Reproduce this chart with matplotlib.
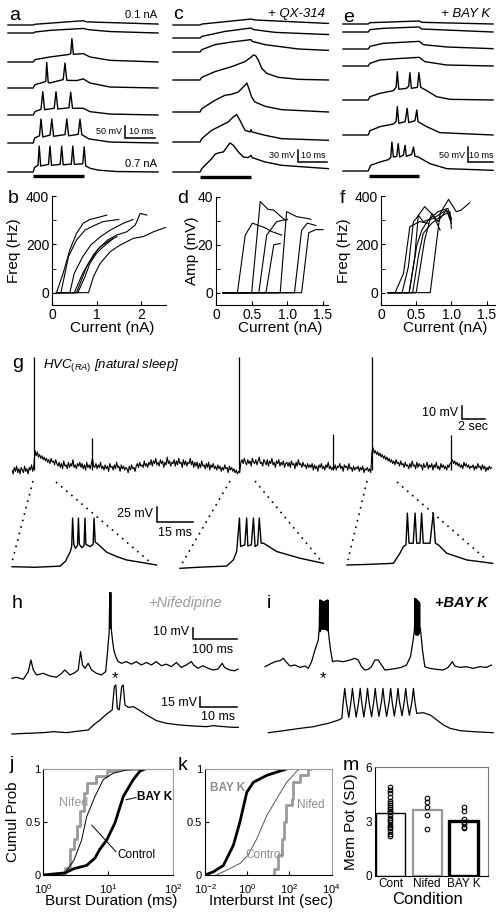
import numpy as np
import matplotlib
matplotlib.use('Agg')
import matplotlib.pyplot as plt
from matplotlib.ticker import NullLocator

plt.rcParams['font.family'] = 'Liberation Sans'
plt.rcParams['mathtext.fontset'] = 'custom'
plt.rcParams['mathtext.rm'] = 'Liberation Sans'
plt.rcParams['mathtext.it'] = 'Liberation Sans:italic'
plt.rcParams['mathtext.bf'] = 'Liberation Sans:bold'

# ---------------- data ----------------
# a: control current steps 0.1 -> 0.7 nA (ms, mV above rest)
a_t = [[0, 8.4, 9.0, 25.1, 26.2, 50],
       [0, 8.4, 9.0, 14.0, 19.6, 25.1, 26.8, 34.0, 50],
       [0, 8.4, 9.0, 14.0, 20.1, 20.9, 21.3, 21.8, 25.1, 27.3, 34.0, 50],
       [0, 8.4, 9.0, 11.8, 12.6, 12.9, 13.4, 14.0, 18.4, 19.0, 19.6, 22.9, 25.1, 27.3, 34.0, 50],
       [0, 8.4, 9.0, 11.0, 11.6, 12.2, 15.4, 16.0, 16.6, 20.3, 20.9, 21.5, 25.1, 27.3, 34.0, 50],
       [0, 8.4, 8.9, 10.5, 11.0, 11.6, 14.0, 14.6, 15.2, 19.0, 19.6, 20.2, 23.4, 24.0, 24.6, 25.5, 27.0, 34.0, 50],
       [0, 8.4, 8.8, 10.0, 10.4, 10.9, 13.5, 14.0, 14.5, 17.4, 17.9, 18.4, 21.1, 21.6, 22.1, 24.9, 25.4, 25.9, 27.5, 30.0, 36.0, 50]]
a_v = [[0, 0, 3, 18, 13, 4],
       [0, 0, 4, 11, 15, 19, 14, 6, 0],
       [0, 0, 10, 21, 31, 35, 97, 32, 35, 21, 7, 0],
       [0, 0, 14, 24, 28, 107, 24, 21, 35, 104, 32, 31, 38, 21, 4, 0],
       [0, 0, 14, 24, 97, 22, 28, 97, 25, 30, 95, 28, 28, 14, 4, 0],
       [0, 0, 21, 30, 100, 25, 33, 100, 28, 35, 100, 30, 36, 100, 35, 28, 17, 4, 0],
       [0, 0, 18, 28, 108, 25, 32, 108, 28, 32, 108, 30, 33, 108, 32, 34, 105, 25, 15, 8, 2, 0]]

# c: + QX-314
c_t = [[0, 9.0, 9.6, 26.0, 27.3, 51.8],
       [0, 9.0, 9.6, 17.3, 26.0, 26.8, 34.0, 51.8],
       [0, 9.0, 9.6, 14.0, 19.6, 26.0, 26.4, 30.7, 41.8, 51.8],
       [0, 9.0, 9.6, 14.0, 19.6, 24.0, 26.0, 26.8, 27.6, 28.4, 29.6, 31.2, 35.1, 41.8, 51.8],
       [0, 9.0, 9.6, 14.0, 17.3, 19.6, 21.8, 24.0, 24.6, 25.1, 26.2, 27.3, 30.7, 36.2, 51.8],
       [0, 9.0, 9.6, 12.9, 16.2, 18.4, 20.1, 21.2, 22.3, 24.0, 25.7, 26.0, 26.4, 30.7, 36.2, 51.8],
       [0, 9.0, 9.6, 12.9, 14.0, 15.1, 16.8, 19.0, 20.1, 21.8, 23.4, 25.1, 26.0, 26.4, 30.7, 36.2, 51.8]]
c_v = [[0, 0, 3, 19, 16, 5],
       [0, 0, 5, 21, 32, 27, 18, 11],
       [0, 0, 7.5, 23.5, 32, 39.6, 34, 23.5, 9.6, 5.3],
       [0, 0, 8.6, 26.8, 42.8, 58.9, 72.8, 80.3, 77, 64.2, 37.5, 21.4, 8.6, 2.1, 0],
       [0, 0, 10.7, 37.5, 53.5, 56.7, 64.2, 85.6, 93, 80.3, 48.2, 32.1, 18.2, 7.5, 0],
       [0, 0, 10.7, 37.5, 53.5, 64.2, 80.3, 87.7, 69.6, 37.5, 32.1, 39.6, 32.1, 21.4, 10.7, 5.4],
       [0, 0, 10.7, 42.8, 56.7, 61, 64.2, 93, 85.6, 64.2, 48.2, 46, 53.5, 46, 32.1, 21.4, 10.7]]

# e: + BAY K
e_t = [[0, 8.4, 9.0, 25.4, 26.2, 50],
       [0, 8.4, 9.0, 13.4, 25.4, 26.2, 50],
       [0, 8.4, 9.0, 13.4, 25.4, 26.8, 34.6, 50],
       [0, 8.4, 9.0, 12.3, 17.9, 25.4, 27.3, 34.6, 50],
       [0, 8.4, 9.0, 12.3, 16.8, 17.7, 18.1, 18.6, 21.2, 21.9, 22.3, 22.8, 24.8, 25.3, 25.9, 27.9, 31.2, 35.7, 50],
       [0, 8.4, 9.0, 12.3, 16.8, 17.7, 18.1, 18.6, 20.7, 21.4, 21.9, 24.0, 24.6, 25.0, 27.9, 32.3, 50],
       [0, 8.4, 9.2, 12.3, 15.1, 15.9, 16.3, 16.8, 17.9, 18.4, 18.9, 20.1, 20.7, 21.1, 22.9, 23.5, 24.0, 25.1, 29.0, 34.6, 50]]
e_v = [[0, 0, 4.4, 10, 5.6, 0],
       [0, 0, 7.8, 12.2, 16.7, 10, 0],
       [0, 0, 8.9, 18.9, 25.5, 14.4, 6.7, 1.1],
       [0, 0, 8.9, 20, 24.4, 28.9, 14.4, 3.3, 0],
       [0, 0, 11.1, 22.2, 31.1, 42.2, 94.4, 35.5, 38.9, 46.6, 91, 38.9, 42.2, 91, 42.2, 31.1, 11.1, 2.2, 0],
       [0, 0, 14.4, 27.8, 36.6, 44.4, 94.4, 38.9, 44.4, 88.8, 41.1, 47.7, 83.3, 44.4, 27.8, 7.8, 0],
       [0, 0, 18.9, 30, 37.7, 44.4, 96.6, 46.6, 48.8, 91, 46.6, 52.2, 85.5, 48.8, 55.5, 79.9, 48.8, 46.6, 24.4, 7.8, 2.2]]

# b: F-I curves, control
b_curr = [[0.1, 0.25, 0.4, 0.55, 0.7, 0.85, 0.97, 1.23],
          [0.1, 0.2, 0.37, 0.55, 0.74, 0.97, 1.15, 1.5],
          [0.1, 0.4, 0.5, 0.69, 0.87, 1.09, 1.31, 1.6, 1.82],
          [0.1, 0.5, 0.69, 0.84, 1.02, 1.25, 1.46, 1.68, 1.87, 1.98, 2.13],
          [0.1, 0.55, 0.66, 0.78, 0.93, 1.08, 1.31, 1.46],
          [0.1, 0.58, 0.74, 0.85, 1.0, 1.15, 1.38],
          [0.1, 0.82, 0.93, 1.08, 1.31, 1.53, 1.83, 2.05, 2.28, 2.55]]
b_freq = [[0, 80, 177, 245, 287, 303, 308, 321],
          [0, 0, 149, 218, 259, 280, 294, 303],
          [0, 0, 80, 149, 197, 232, 259, 287, 303],
          [0, 0, 80, 128, 177, 218, 239, 252, 280, 328, 321],
          [0, 0, 52, 108, 156, 190, 218, 232],
          [0, 0, 66, 121, 163, 190, 225],
          [0, 0, 66, 121, 170, 197, 225, 232, 252, 270]]

# d: amplitude vs current, QX-314
d_curr = [[0.1, 0.3, 0.41, 0.51, 0.69, 0.78, 0.92],
          [0.1, 0.5, 0.62, 0.73, 0.81, 0.9, 0.98],
          [0.1, 0.6, 0.71, 0.85, 0.95, 1.0],
          [0.1, 0.7, 0.81, 0.9],
          [0.1, 0.9, 0.99, 1.13, 1.27, 1.33],
          [0.1, 1.1, 1.2, 1.28, 1.4],
          [0.1, 1.2, 1.3, 1.4, 1.5]]
d_amp = [[0, 0, 24, 29, 27, 25.5, 24],
         [0, 0, 38, 34.7, 34.4, 32, 30],
         [0, 0, 24, 29.6, 30.3, 30.5],
         [0, 0, 20, 20.5],
         [0, 0, 33.8, 31.7, 31, 30.6],
         [0, 0, 26, 29, 28],
         [0, 0, 25, 26.3, 26.3]]

# f: F-I curves, BAY K
f_curr = [[0.1, 0.2, 0.32, 0.41, 0.55, 0.67],
          [0.1, 0.3, 0.39, 0.46, 0.5, 0.62, 0.74, 0.84],
          [0.1, 0.4, 0.48, 0.53, 0.6, 0.74, 0.93, 1.0],
          [0.1, 0.4, 0.51, 0.58, 0.67, 0.81, 0.95, 1.0],
          [0.1, 0.45, 0.53, 0.6, 0.72, 0.84, 0.98, 1.0],
          [0.1, 0.5, 0.62, 0.72, 0.81, 0.93, 1.0],
          [0.1, 0.7, 0.84, 0.96, 1.07, 1.14, 1.26]]
f_freq = [[0, 0, 80, 273, 294, 287],
          [0, 0, 108, 294, 307, 356, 321, 259],
          [0, 0, 149, 321, 294, 307, 342, 287],
          [0, 0, 197, 259, 300, 335, 349, 307],
          [0, 0, 149, 245, 287, 314, 335, 266],
          [0, 0, 218, 328, 294, 342, 300],
          [0, 0, 328, 386, 335, 342, 372]]

# g: natural sleep recording, 0.1 s samples (mV above rest), one row = 2 s
g_dt = 0.1
g_v = [0, -3, 2, -1, 3, -2, 1, -3, 2, 0, -2, 3, -1, 1, -3, 2, 0, 4, -1, 3,
       15, 11, 14, 10, 12, 9, 11, 8, 10, 7, 9, 6, 8, 5, 9, 6, 7, 4, 8, 5,
       3, 6, 2, 5, 1, 7, 3, 4, 1, 6, 2, 5, 3, 8, 2, 4, 1, 5, 3, 6,
       2, 5, 1, 4, 0, 6, 2, 4, 1, 5, 9, 3, 2, 5, 1, 4, 2, 6, 1, 3,
       0, 4, 1, 3, -1, 5, 2, 3, 0, 4, 1, 6, 2, 3, -1, 4, 1, 3, 0, 2,
       1, -2, 3, 0, 4, 1, 2, -1, 3, 5, 2, 6, 3, 4, 2, 7, 3, 5, 2, 6,
       4, 8, 3, 7, 5, 9, 4, 6, 3, 8, 5, 7, 2, 6, 4, 10, 5, 7, 3, 6,
       5, 8, 3, 7, 4, 9, 5, 6, 2, 8, 4, 7, 3, 6, 5, 9, 4, 7, 2, 6,
       3, 6, 1, 5, 2, 7, 3, 4, 1, 5, 2, 6, 0, 4, 2, 5, 1, 3, 0, 4,
       1, 3, -1, 2, 0, 4, 1, 2, -2, 3, 0, 2, -1, 1, -2, 0, -3, -1, -2, 6,
       8, 5, 9, 6, 4, 8, 5, 7, 3, 9, 6, 5, 8, 4, 7, 10, 5, 6, 3, 8,
       6, 4, 8, 3, 7, 5, 9, 4, 6, 2, 7, 5, 8, 3, 6, 4, 7, 2, 5, 6,
       3, 6, 2, 7, 4, 5, 1, 6, 3, 8, 4, 5, 2, 6, 3, 4, 1, 5, 2, 4,
       2, 5, 0, 4, 1, 3, -1, 4, 2, 5, 1, 3, 0, 4, 2, 6, 1, 3, 0, 2,
       1, 4, 0, 3, 2, 5, 1, 3, -1, 4, 2, 3, 0, 5, 1, 2, -1, 3, 0, 2,
       1, 3, -1, 2, 0, 3, -2, 1, 0, 2, -1, 1, -2, 14, 17, 13, 15, 12, 14, 11,
       13, 10, 12, 9, 11, 8, 10, 7, 9, 6, 8, 5, 7, 4, 8, 5, 6, 3, 7, 4,
       5, 2, 6, 3, 4, 1, 5, 2, 7, 3, 4, 1, 6, 2, 5, 3, 4, 0, 5, 2,
       3, 6, 1, 4, 2, 5, 0, 4, 2, 6, 1, 3, 0, 5, 2, 4, 1, 3, 0, 4,
       2, 5, 6, 8, 5, 7, 4, 6, 3, 5, 2, 4, 1, 6, 3, 5, 2, 4, 1, 3,
       2, 4, 0, 3, 1, 5, 2, 3, 0, 4, 1, 3, -1, 2, 0, 3, 1, 2]
g_spike_t = [1.9, 7.0, 19.75, 27.9, 31.3, 38.2]
g_spike_peak = [87, 25, 87, 28, 87, 27]

# g insets: expanded bursts (ms, mV)
g1_t = [0, 10, 20.6, 23, 25, 25.6, 26.0, 26.5, 27.2, 28.1, 28.5, 28.9, 30.0, 30.9, 31.3, 31.7,
        33.5, 34.8, 35.2, 35.7, 37, 40.6, 45, 49.2, 55, 62]
g1_v = [0, -1, 1, 10, 27, 36, 87, 40, 33, 38, 87, 40, 34, 38, 87, 40,
        36, 40, 87, 44, 40, 26, 18, 12, 8, 3]
g2_t = [0, 8.6, 20, 22.9, 24.3, 25.5, 26.0, 27.8, 28.6, 29.1, 30.6, 31.5, 32.2, 33.3, 34.0, 34.8,
        35.8, 41.5, 51.5, 61.5]
g2_v = [0, 2, 4, 15, 30, 90, 39, 42, 90, 40, 42, 90, 39, 42, 90, 45, 45, 30, 18, 9]
g3_t = [0, 8.4, 19.9, 22.7, 24.2, 25.3, 25.9, 26.6, 28.4, 29.2, 29.9, 31.3, 32.0, 32.7, 35.6, 37.0,
        37.9, 39.2, 42.8, 51.4, 62.5]
g3_v = [0, 1, 3, 21, 33, 36, 93, 39, 39, 93, 39, 39, 93, 39, 39, 93, 39, 36, 21, 9, 3]

# h: + Nifedipine (upper: 100 ms scale, lower: 10 ms scale)
h_up_t = [0, 10, 25.7, 37.1, 43, 48.5, 56, 71, 86, 101, 113, 120, 132, 143, 150.6, 156, 160.4, 166,
          173.3, 181, 192, 203.5, 213, 217, 221, 222.5, 223.5, 224.7, 226, 228.5, 231.5, 236, 241.4,
          249, 260, 271.6, 283, 294, 306, 317, 328, 340, 351, 362.4, 374, 385, 396.4, 408, 413, 423,
          434, 446, 457, 468, 478, 483.5, 495, 506, 514]
h_up_v = [0, 1.2, -1.2, 8, 22, 10, 4, 6, 2.8, 1.2, 6, 10, 4, 6.8, 10, 32, 16, 12,
          18, 10, 6, 4, 8, 30, 56, 103, 60, 103, 58, 46, 34, 26, 20,
          18, 20, 17, 20, 16, 19, 16, 20, 15, 17, 14, 19, 13, 16, 20, 16, 12,
          15, 12, 10, 11, 18, 13, 10, 9, 11]
h_lo_t = [0, 4, 8.5, 11.3, 14.9, 17.6, 20.8, 22.2, 24, 25.8, 26.7, 27.3, 27.9, 28.3, 28.7, 29.2,
          29.9, 30.3, 30.8, 31.7, 33.1, 34.9, 36.7, 39.4, 42.1, 45.8, 49.4, 53, 54.9, 56.7, 60.3, 61.7]
h_lo_v = [0, 1, 2, 3.5, 2, 4, 6, 13.5, 21, 30, 33.5, 36, 71, 73.5, 38.5, 36,
          71, 73.5, 43.5, 40, 41, 35, 28.5, 20, 16, 13.5, 12, 11, 12.5, 11.5, 10, 10]

# i: + BAY K
i_up_t = [0, 11.4, 22.7, 34, 41.6, 47.7, 56.8, 68, 79.5, 90.8, 98.3, 105.9, 113.5, 121, 123.3,
          143.7, 145.3, 149, 153.6, 162.7, 177.8, 193, 204.3, 211.9, 219.5, 227, 234.6, 242, 249.7,
          257.3, 265, 272.4, 283.8, 299, 310.3, 321.6, 330.7, 336.8, 339.8, 353.4, 355, 358, 363.3,
          374.6, 390, 405, 416.4, 426, 431.4, 442.7, 457.8, 473, 488, 503.3, 514.7]
i_up_v = [0, 3.2, 6, 7.2, 10, 6, 0.8, 2, -0.8, 0.8, -2, 6, 20, 32, 45,
          45, 36, 20, 6, 7.2, 6, 8, 10, 8, 0, -4, -3.2, 0, 8,
          8, 2, -4, -3.2, -2, -0.8, 2, 12, 32, 45, 45, 36, 20, 0,
          -2, -3.2, -4, -0.8, 6, 0.8, -0.8, 0, -2, 0, -0.8, 2]
i_b1_t = [123.3, 124.2, 125.2, 126.1, 127.0, 128.0, 128.9, 129.8, 130.8, 131.7, 132.6, 133.6,
          134.5, 135.4, 136.4, 137.3, 138.2, 139.2, 140.1, 141.0, 142.0, 142.9, 143.7]
i_b1_v = [45, 80, 42, 80, 44, 79, 45, 79, 46, 78, 46, 78, 46, 78, 45, 79, 45, 79, 44, 80, 43, 80, 45]
i_b2_t = [339.8, 340.7, 341.6, 342.5, 343.4, 344.3, 345.2, 346.1, 347.0, 347.9, 348.8, 349.7,
          350.6, 351.5, 352.4, 353.4]
i_b2_v = [45, 82, 40, 82, 38, 80, 38, 80, 38, 79, 38, 78, 40, 76, 42, 45]
i_lo_t = [0.1, 4.2, 8.7, 12.4, 14.2, 16.4, 17.8, 19.2, 20.1,
          20.5, 20.9, 21.3, 22.0, 22.6, 23.0, 23.4, 24.0, 24.7, 25.1, 25.5, 26.1,
          26.7, 27.1, 27.5, 28.2, 28.8, 29.2, 29.6, 30.2, 30.9, 31.3, 31.7, 32.3,
          33.0, 33.4, 33.8, 34.4, 35.0, 35.4, 35.8, 36.5, 37.1, 37.5, 37.9, 38.5,
          39.2, 39.6, 40.0,
          40.5, 42.3, 44.2, 46.0, 47.8, 49.6, 52.4, 56.0, 61.3]
i_lo_v = [-1.5, 1.5, 5, 7.5, 10, 12.5, 15, 17.5, 20,
          45, 65, 45, 21.5, 45, 65, 45, 22, 45, 65, 45, 22,
          45, 65, 45, 22.5, 45, 65, 45, 23, 45, 65, 45, 23,
          45, 65, 45, 23.5, 45, 65, 45, 24, 45, 65, 45, 24.5,
          45, 65, 45,
          27.5, 28.5, 25, 17.5, 10, 5, 1.5, 0, -1.5]

# j: burst duration CDFs (ms)
j_nifed_x = [2.16, 2.16, 2.58, 2.97, 3.3, 3.7, 4.3, 4.77, 6.6, 9.5, 13.5, 30]
j_nifed_y = [0, 0.07, 0.25, 0.34, 0.46, 0.6, 0.77, 0.87, 0.93, 0.98, 1.0, 1.0]
j_ctrl_x = [1.0, 1.9, 2.16, 2.97, 3.9, 4.66, 6.26, 8.4, 12, 19, 31]
j_ctrl_y = [0, 0, 0.02, 0.14, 0.33, 0.55, 0.74, 0.9, 0.96, 0.99, 1.0]
j_bayk_x = [1.0, 2.16, 2.97, 4.66, 6.26, 7.4, 9.5, 12.7, 17.1, 24.4, 30.9, 36.9]
j_bayk_y = [0, 0.02, 0.06, 0.09, 0.16, 0.24, 0.33, 0.49, 0.74, 0.9, 0.98, 1.0]

# k: interburst interval CDFs (sec)
k_nifed_x = [17.6, 17.6, 29, 42, 55, 69, 128, 154, 316, 794, 900]
k_nifed_y = [0, 0.06, 0.19, 0.34, 0.5, 0.66, 0.72, 0.875, 0.94, 1.0, 1.0]
k_ctrl_x = [0.035, 0.15, 0.46, 1.12, 2.8, 8.4, 25, 74, 225, 316]
k_ctrl_y = [0, 0.06, 0.11, 0.19, 0.34, 0.56, 0.72, 0.875, 0.98, 1.0]
k_bayk_x = [0.01, 0.025, 0.074, 0.22, 0.45, 0.95, 1.96, 8.4, 35, 74]
k_bayk_y = [0, 0.03, 0.09, 0.28, 0.5, 0.78, 0.875, 0.94, 0.98, 1.0]

# m: membrane potential SD
m_conds = ['Cont', 'Nifed', 'BAY K']
m_means = [3.45, 3.64, 3.05]
m_cont_pts = [4.89, 4.74, 4.56, 4.38, 4.15, 4.0, 3.9, 3.82, 3.67, 3.6, 3.54, 3.36, 3.18, 3.1,
              2.99, 2.81, 2.7, 2.62, 2.49, 2.31, 2.2]
m_nifed_pts = [4.32, 4.1, 3.82, 3.36, 2.57]
m_bayk_pts = [3.82, 3.6, 3.12, 2.99, 2.86, 2.71, 2.62]

# ---------------- layout ----------------
W, H = 503, 914
GRAY = '#9a9a9a'
fig = plt.figure(figsize=(W / 100, H / 100), dpi=100)


def px_axes(x0, y0, x1, y1):
    return fig.add_axes([x0 / W, 1 - y1 / H, (x1 - x0) / W, (y1 - y0) / H])


# trace baselines (pixel rows) for a, c, e
a_base = [25, 33, 62, 88, 115, 143, 172]
c_base = [25, 38, 52, 80, 112, 142, 172]
e_base = [24, 32, 49, 66, 100, 135, 171]

for x0, x1, ts, vs, bases, s, tmax, stim, sy in [
        (8, 158, a_t, a_v, a_base, 4.17, 50, (8.4, 25.3), 176),
        (173, 329, c_t, c_v, c_base, 3.2, 52, (9.0, 26.0), 177),
        (343, 493, e_t, e_v, e_base, 3.33, 50, (8.7, 25.4), 176)]:
    ax = px_axes(x0, 8, x1, 182)
    for t, v, b in zip(ts, vs, bases):
        ax.plot(t, np.array(v) - (b - 8) * s, color='k', lw=1.0, clip_on=False)
    ax.plot(stim, [-(sy - 8) * s] * 2, color='k', lw=2.4, solid_capstyle='butt')
    ax.set_xlim(0, tmax)
    ax.set_ylim(-174 * s, 0)
    ax.axis('off')


def fi_panel(box, xs, ys, xlim, ylim, yticks, yminor, xticks, xticklabels, ylabel, ylab_x, xlab_x):
    ax = px_axes(*box)
    for x, y in zip(xs, ys):
        ax.plot(x, y, color='k', lw=0.8)
    ax.set_xlim(xlim)
    ax.set_ylim(ylim)
    ax.spines['top'].set_visible(False)
    ax.spines['right'].set_visible(False)
    ax.set_yticks(yticks)
    ax.set_yticks(yminor, minor=True)
    ax.set_xticks(xticks)
    ax.set_xticklabels(xticklabels)
    ax.tick_params(which='both', direction='in', length=3, labelsize=10, pad=2)
    ax.set_xlabel('Current (nA)', fontsize=11)
    ax.set_ylabel(ylabel, fontsize=11)
    ax.xaxis.set_label_coords(xlab_x, -0.15)
    ax.yaxis.set_label_coords(ylab_x, 0.5)
    return ax


fi_panel((52, 196, 166, 305), b_curr, b_freq, (0, 2.56), (-51, 400), [0, 200, 400], [100, 300],
         [0, 1, 2], ['0', '1', '2'], 'Freq (Hz)', -0.27, 0.53)
fi_panel((216, 196.7, 328, 305), d_curr, d_amp, (0, 1.57), (-5.1, 40), [0, 20, 40], [10, 30],
         [0, 0.5, 1.0, 1.5], ['0', '0.5', '1.0', '1.5'], 'Amp (mV)', -0.15, 0.57)
fi_panel((381, 196, 495, 305), f_curr, f_freq, (0, 1.62), (-51, 400), [0, 200, 400], [100, 300],
         [0, 0.5, 1.0, 1.5], ['0', '0.5', '1.0', '1.5'], 'Freq (Hz)', -0.26, 0.56)

# g: long recording
ax = px_axes(12, 350, 492, 482)
g_t = np.arange(len(g_v)) * g_dt
ax.plot(g_t, g_v, color='k', lw=0.8)
ax.vlines(g_spike_t, 0, g_spike_peak, color='k', lw=0.9)
ax.set_xlim(0, 41.74)
ax.set_ylim(-9.2, 92.4)
ax.axis('off')

for x0, t, v, base in [(12, g1_t, g1_v, 566.7), (180, g2_t, g2_v, 568.3), (347, g3_t, g3_v, 565)]:
    ax = px_axes(x0, 500, x0 + 145, 578)
    ax.plot(t, v, color='k', lw=1.0, clip_on=False)
    ax.set_xlim(0, 62.2)
    ax.set_ylim(-(578 - base) * 1.79, (base - 500) * 1.79)
    ax.axis('off')

# h / i traces
for box, t, v, xmax, base, mvpx in [
        ((12, 586, 238, 684), h_up_t, h_up_v, 514, 678.3, 1.2),
        ((265, 586, 492, 684), i_up_t, i_up_v, 516, 666.7, 1.2),
        ((12, 684, 238, 742), h_lo_t, h_lo_v, 61.6, 734, 1.5),
        ((268, 684, 492, 742), i_lo_t, i_lo_v, 61.0, 731.7, 1.5)]:
    ax = px_axes(*box)
    ax.plot(t, v, color='k', lw=0.9, clip_on=False)
    if t is i_up_t:
        ax.plot(i_b1_t, i_b1_v, color='k', lw=0.9, clip_on=False)
        ax.plot(i_b2_t, i_b2_v, color='k', lw=0.9, clip_on=False)
    ax.set_xlim(0, xmax)
    ax.set_ylim(-(box[3] - base) * mvpx, (base - box[1]) * mvpx)
    ax.axis('off')


def cdf_axes(box, xlim, xticks, xticklabels, xlabel, ylabel):
    ax = px_axes(*box)
    ax.set_xscale('log')
    ax.set_xlim(xlim)
    ax.set_ylim(0, 1)
    ax.set_xticks(xticks)
    ax.set_xticklabels(xticklabels)
    ax.xaxis.set_minor_locator(NullLocator())
    ax.set_yticks([0, 0.5, 1])
    ax.set_yticklabels(['0', '0.5', '1'])
    ax.tick_params(direction='in', length=3, labelsize=8, pad=2)
    ax.tick_params(axis='x', pad=5)
    for sp in ('top', 'right'):
        ax.spines[sp].set_color(GRAY)
    ax.set_xlabel(xlabel, fontsize=11)
    ax.xaxis.set_label_coords(0.52, -0.18)
    if ylabel:
        ax.set_ylabel(ylabel, fontsize=11)
        ax.yaxis.set_label_coords(-0.18, 0.5)
    return ax


ax = cdf_axes((43.3, 769, 173, 875), (1, 100), [1, 10, 100],
              [r'$10^{0}$', r'$10^{1}$', r'$10^{2}$'], 'Burst Duration (ms)', 'Cumul Prob')
ax.plot(j_nifed_x, j_nifed_y, color=GRAY, lw=2.0, drawstyle='steps-post')
ax.plot(j_ctrl_x, j_ctrl_y, color='k', lw=0.7)
ax.plot(j_bayk_x, j_bayk_y, color='k', lw=2.0)
ax.text(2.9, 0.68, 'Nifed', color=GRAY, fontsize=9, ha='center', va='center')
ax.text(27.8, 0.74, 'BAY K', fontsize=8.5, fontweight='bold', ha='left', va='center')
ax.text(13.7, 0.19, 'Control', fontsize=8.5, ha='left', va='center')
ax.plot([5.6, 13.2], [0.47, 0.22], color='k', lw=0.7)
ax.plot([18.9, 26.9], [0.71, 0.73], color='k', lw=0.7)

ax = cdf_axes((205, 769, 331.7, 875), (1e-2, 1e4), [1e-2, 1, 1e2, 1e4],
              [r'$10^{-2}$', r'$10^{0}$', r'$10^{2}$', r'$10^{4}$'], 'Interburst Int (sec)', None)
ax.plot(k_nifed_x, k_nifed_y, color=GRAY, lw=2.0, drawstyle='steps-post')
ax.plot(k_ctrl_x, k_ctrl_y, color='#555555', lw=0.7)
ax.plot(k_bayk_x, k_bayk_y, color='k', lw=2.0)
ax.text(0.017, 0.82, 'BAY K', color='#8c8c8c', fontsize=8.5, fontweight='bold', ha='left', va='center')
ax.text(229, 0.66, 'Nifed', color='#8c8c8c', fontsize=8.5, ha='left', va='center')
ax.text(0.8, 0.19, 'Control', color='#8c8c8c', fontsize=8.5, ha='left', va='center')

# m: bars + points
ax = px_axes(375, 767.3, 488.3, 875.7)
pos = [1, 2, 3]
ax.bar(pos, m_means, width=0.79, facecolor='white', edgecolor=['k', GRAY, 'k'],
       linewidth=[1.0, 1.6, 2.4])
for p, pts in zip(pos, [m_cont_pts, m_nifed_pts, m_bayk_pts]):
    ax.plot([p] * len(pts), pts, 'o', mfc='none', mec='k', ms=3.3, mew=0.8)
ax.set_xlim(0.577, 3.67)
ax.set_ylim(0, 6)
ax.set_xticks(pos)
ax.set_xticklabels(m_conds)
ax.set_yticks([0, 3, 6])
ax.tick_params(direction='in', length=0, labelsize=8.5, pad=2)
for sp in ('top', 'right'):
    ax.spines[sp].set_color('#777777')
ax.set_xlabel('Condition', fontsize=12)
ax.xaxis.set_label_coords(0.46, -0.15)
ax.set_ylabel('Mem Pot (SD)', fontsize=11)
ax.yaxis.set_label_coords(-0.15, 0.5)

# ---------------- overlay: letters, scale bars, annotations ----------------
ov = fig.add_axes([0, 0, 1, 1])
ov.set_xlim(0, W)
ov.set_ylim(H, 0)
ov.axis('off')

for s, x, y in [('a', 9, 20), ('c', 173, 19), ('e', 343, 22), ('b', 8, 203), ('d', 177, 203),
                ('f', 340, 203), ('g', 12, 368), ('h', 12, 608), ('i', 267, 608),
                ('j', 10, 769), ('k', 178, 770), ('m', 343, 770)]:
    ov.text(x, y, s, fontsize=14, ha='left', va='baseline')


def sbar(x, ytop, ybot, xr):
    ov.plot([x, x, xr], [ytop, ybot, ybot], color='k', lw=1.1, solid_joinstyle='miter')


sbar(125.5, 126, 137.5, 155)
sbar(298, 150, 162, 327)
sbar(468, 147, 162, 493)
sbar(462, 406, 419, 485)
sbar(157, 507, 522, 193)
sbar(193, 628, 639, 237)
sbar(200, 697, 707, 237)

small = dict(fontsize=6.5, va='center')
ov.text(122, 132, '50 mV', ha='right', **small)
ov.text(141, 132, '10 ms', ha='center', **small)
ov.text(295, 155, '30 mV', ha='right', **small)
ov.text(313, 155, '10 ms', ha='center', **small)
ov.text(465, 155, '50 mV', ha='right', **small)
ov.text(481, 155, '10 ms', ha='center', **small)
ov.text(157, 15.5, '0.1 nA', fontsize=8, ha='right', va='center')
ov.text(157, 164, '0.7 nA', fontsize=8, ha='right', va='center')
ov.text(325, 14, '+ QX-314', fontsize=9.5, style='italic', ha='right', va='center')
ov.text(490, 14, '+ BAY K', fontsize=9.5, style='italic', ha='right', va='center')

ov.text(43, 366, r'$HVC_{(RA)}$ [natural sleep]', fontsize=9.5, style='italic', ha='left', va='center')
ov.text(458, 413, '10 mV', fontsize=9, ha='right', va='center')
ov.text(473, 427, '2 sec', fontsize=9, ha='center', va='center')
ov.text(153, 514, '25 mV', fontsize=9, ha='right', va='center')
ov.text(175, 533, '15 ms', fontsize=9, ha='center', va='center')

for (x0, y0), (x1, y1) in [((33, 481), (12, 562)), ((56, 482), (150, 562)),
                           ((230, 481), (180, 567)), ((255, 481), (322, 562)),
                           ((367, 481), (348, 560)), ((397, 482), (487, 560))]:
    ov.plot([x0, x1], [y0, y1], color='k', lw=1.2, ls=(0, (1, 3)))

ov.text(189, 632, '10 mV', fontsize=9, ha='right', va='center')
ov.text(213, 650, '100 ms', fontsize=9, ha='center', va='center')
ov.text(197, 703, '15 mV', fontsize=9, ha='right', va='center')
ov.text(218, 717, '10 ms', fontsize=9, ha='center', va='center')
ov.text(222, 603, '+Nifedipine', fontsize=10.5, style='italic', color=GRAY, ha='right', va='center')
ov.text(488, 603, '+BAY K', fontsize=10.5, style='italic', fontweight='bold', ha='right', va='center')
ov.text(115, 683, '*', fontsize=12, ha='center', va='baseline')
ov.text(323, 683, '*', fontsize=12, ha='center', va='baseline')

fig.savefig('out.png', dpi=100)
